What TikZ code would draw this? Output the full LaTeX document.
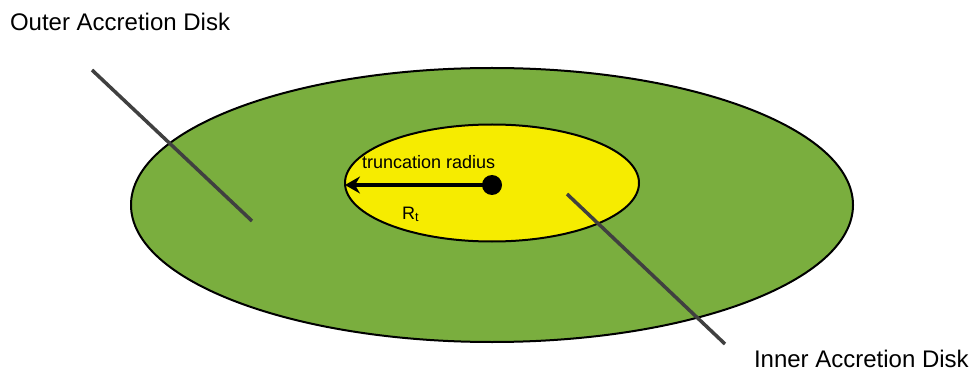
\documentclass[tikz,border=0pt]{standalone}
\usepackage{fontspec}
\setmainfont{Liberation Sans}
\usetikzlibrary{shapes.geometric,arrows.meta}
\definecolor{diskgreen}{RGB}{122,174,62}
\definecolor{diskyellow}{RGB}{246,236,0}
\definecolor{pointer}{RGB}{64,64,64}
\tikzset{
  disk/.style={ellipse, draw=black, line width=2pt, inner sep=0pt, outer sep=0pt},
  pointerline/.style={draw=pointer, line width=3.5pt},
  label/.style={inner sep=0pt, outer sep=0pt, anchor=base west, font=\fontsize{24}{28}\selectfont},
  small/.style={inner sep=0pt, outer sep=0pt, anchor=base west, font=\fontsize{18}{22}\selectfont},
}
\begin{document}
\begin{tikzpicture}[x=1pt, y=-1pt]
  \useasboundingbox[fill=white] (0,0) rectangle (974,374);
  % the two disks
  \node[disk, fill=diskgreen, minimum width=722pt, minimum height=274pt] (outer) at (492,205) {};
  \node[disk, fill=diskyellow, minimum width=294pt, minimum height=117pt] (inner) at (492,183) {};
  % pointer lines for the labels
  \coordinate (oa) at (92,70);
  \coordinate (ob) at (252,221);
  \coordinate (ia) at (567,194);
  \coordinate (ib) at (725,344);
  \draw[pointerline] (oa) -- (ob);
  \draw[pointerline] (ia) -- (ib);
  % centre and truncation radius
  \node[circle, fill=black, minimum size=20pt, inner sep=0pt] (centre) at (492,185) {};
  \coordinate (edge) at (345,185);
  \draw[line width=3.5pt, -{Stealth[length=15pt, width=17pt, inset=5pt]}] (centre.center) -- (edge);
  % texts
  \node[label] (outerlbl) at (10,31) {Outer Accretion Disk};
  \node[label] (innerlbl) at (754,367) {Inner Accretion Disk};
  \node[small] (trunc) at (362,169) {truncation radius};
  \node[small] (rt) at (402,219) {R\textsubscript{t}};
\end{tikzpicture}
\end{document}
